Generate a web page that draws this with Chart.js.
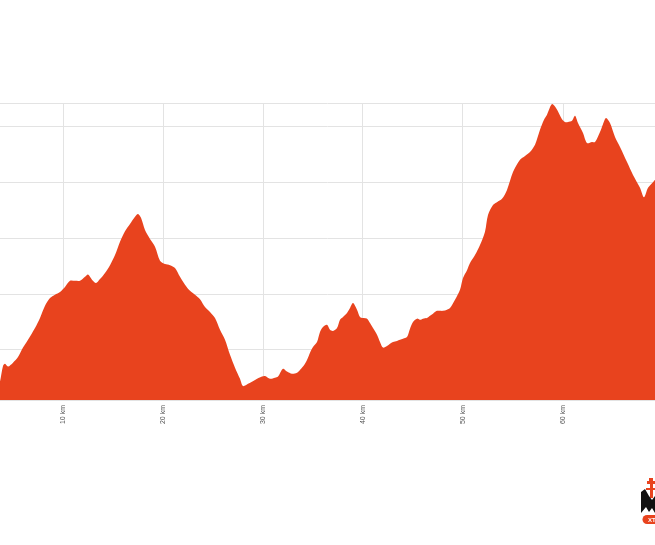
<!DOCTYPE html>
<html>
<head>
<meta charset="utf-8">
<script src="https://cdn.jsdelivr.net/npm/chart.js@4"></script>
<style>
html,body{margin:0;padding:0;background:#fff;overflow:hidden;}
#wrap{width:655px;height:545px;position:relative;}
</style>
</head>
<body>
<div id="wrap"><canvas id="c" width="655" height="545"></canvas></div>
<script>
// distance along the route (km)
const distanceKm = [3.4,3.7,4.0,4.2,4.5,5.0,5.5,6.0,6.5,7.2,7.7,8.2,8.7,9.2,9.7,10.2,10.7,11.2,11.7,12.2,12.5,12.9,13.3,13.7,14.2,14.7,15.2,15.7,16.2,16.7,17.2,17.5,17.8,18.2,18.7,19.2,19.7,20.2,20.7,21.2,21.7,22.2,22.7,23.2,23.7,24.2,24.7,25.2,25.7,26.2,26.7,27.2,27.7,28.0,28.5,29.2,29.9,30.2,30.7,31.2,31.5,32.0,32.4,32.9,33.4,33.7,34.0,34.4,34.7,35.0,35.4,35.7,36.0,36.4,36.7,37.0,37.4,37.7,38.0,38.4,38.7,39.0,39.4,39.7,40.0,40.4,40.7,41.0,41.4,41.7,42.0,42.4,42.7,43.0,43.4,43.7,44.0,44.4,44.7,45.0,45.4,45.7,46.0,46.4,46.7,47.0,47.4,47.7,48.0,48.4,48.7,49.2,49.7,50.0,50.4,50.7,51.2,51.7,52.2,52.5,53.0,53.4,53.9,54.4,55.0,55.7,56.2,56.7,57.2,57.7,58.1,58.4,58.9,59.3,59.9,60.2,60.5,60.9,61.2,61.5,62.0,62.4,62.9,63.2,63.7,64.0,64.3,64.7,65.2,65.7,66.4,67.0,67.7,68.1,68.5,69.0,69.5];
// elevation (m)
const elevationM = [525,543,571,575,570,577,587,604,618,639,657,679,693,699,704,713,724,724,724,731,735,726,720,727,738,752,770,794,813,826,839,844,837,815,799,785,760,754,752,747,731,717,706,699,691,677,668,657,636,618,591,568,548,535,539,546,552,553,548,550,552,566,561,557,559,564,570,582,595,605,614,632,641,645,636,634,639,654,659,666,675,684,672,659,657,656,648,639,627,614,604,607,611,614,616,618,620,623,638,650,656,654,656,657,661,665,670,670,670,672,675,690,708,729,743,756,770,788,812,842,860,865,871,887,919,941,948,955,968,995,1013,1022,1041,1034,1014,1009,1009,1011,1020,1007,989,971,973,973,991,1005,1016,1007,982,964,937,914,891,874,891,901,912];
// x tick values (km)
const xTicks = [10,20,30,40,50,60];
const xRange = [3.7, 69.2];
const yRange = [510, 1043];

const points = distanceKm.map((d,i)=>({x:d,y:elevationM[i]}));

const logoPlugin = {
  id:'logo',
  afterDraw(chart){
    const ctx = chart.ctx;
    ctx.save();
    // orange tower
    ctx.fillStyle = '#e8431e';
    ctx.fillRect(649,478,4,3);
    ctx.fillRect(647,481,8,3);
    ctx.fillRect(650,484,3,14);
    ctx.fillRect(646,488,11,2);
    // black mountain
    ctx.fillStyle = '#111';
    ctx.beginPath();
    ctx.moveTo(641,513);
    ctx.lineTo(641,492);
    ctx.lineTo(645,489);
    ctx.lineTo(649,496);
    ctx.lineTo(652,500);
    ctx.lineTo(655,496);
    ctx.lineTo(655,513);
    ctx.lineTo(652,508);
    ctx.lineTo(649,512);
    ctx.lineTo(646,507);
    ctx.closePath();
    ctx.fill();
    // orange pill
    ctx.fillStyle = '#e8431e';
    ctx.beginPath();
    ctx.moveTo(647,515);
    ctx.lineTo(660,515);
    ctx.lineTo(660,524);
    ctx.lineTo(647,524);
    ctx.arc(647,519.5,4.5,Math.PI/2,Math.PI*1.5);
    ctx.fill();
    ctx.fillStyle = '#fff';
    ctx.font = 'bold 6px "Liberation Sans", Arial, sans-serif';
    ctx.textBaseline = 'middle';
    ctx.fillText('XT',648,520);
    ctx.restore();
  }
};

new Chart(document.getElementById('c'), {
  type:'line',
  data:{datasets:[{
    data:points,
    backgroundColor:'#e8431e',
    borderColor:'#e8431e',
    borderWidth:0,
    pointRadius:0,
    fill:'start',
    tension:0.3
  }]},
  options:{
    responsive:false,
    animation:false,
    devicePixelRatio:1,
    layout:{padding:{top:103,left:0,right:0,bottom:0}},
    plugins:{legend:{display:false},tooltip:{enabled:false}},
    scales:{
      x:{
        type:'linear',
        min:xRange[0], max:xRange[1],
        afterBuildTicks(scale){ scale.ticks = xTicks.map(v=>({value:v})); },
        afterFit(scale){ scale.height = 145; },
        grid:{color:'#e3e3e3',lineWidth:1,drawTicks:false},
        border:{display:true,color:'#e3e3e3'},
        ticks:{
          autoSkip:false,
          maxRotation:90,minRotation:90,
          padding:5,
          color:'#555',
          font:{size:7,family:'"Liberation Sans", Arial, sans-serif'},
          callback:(v)=>v+' km'
        }
      },
      y:{
        min:yRange[0], max:yRange[1],
        ticks:{display:false,stepSize:100},
        afterFit(scale){ scale.width = 0; },
        grid:{color:'#e3e3e3',lineWidth:1,drawTicks:false},
        border:{display:false}
      }
    }
  },
  plugins:[logoPlugin]
});
</script>
</body>
</html>
